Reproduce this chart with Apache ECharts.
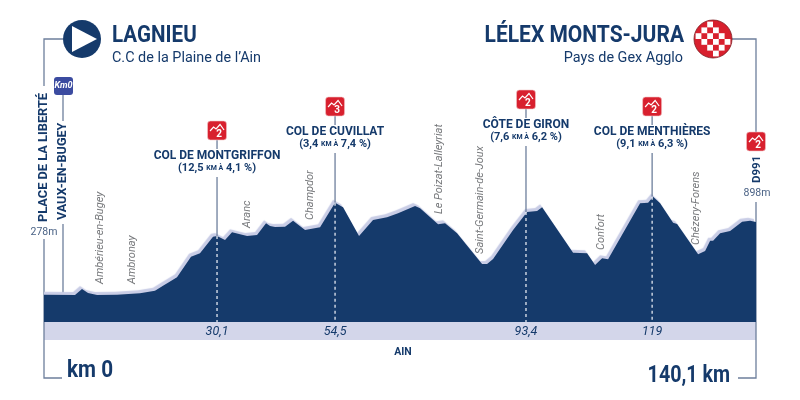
<!DOCTYPE html>
<html lang="fr">
<head>
    <meta charset="UTF-8">
    <title>Profil de l'étape Lagnieu - Lélex Monts-Jura</title>
    <style>html,body{margin:0;background:#fff}</style>
</head>
<body>
<div style="width: 800px;height: 400px;" id="profile"></div>
<script src="https://cdn.jsdelivr.net/npm/echarts@6/dist/echarts.min.js"></script>
<script type="text/javascript">
  // profile: km (start is before km 0) and altitude in m
  const profileKm = [-3.84, 2.43, 3.84, 5.06, 6.88, 10.92, 15.57, 18.6, 20.22, 21.23, 23.05, 25.88, 27.7, 30.33, 31.14, 32.76, 34.17, 37.21, 39.23, 41.05, 41.86, 42.87, 44.89, 46.51, 48.93, 51.97, 55, 56.62, 59.85, 62.68, 65.51, 67.74, 71.18, 72.19, 75.83, 77.24, 79.67, 84.72, 85.73, 86.95, 90.99, 93.82, 95.84, 96.86, 103.12, 105.95, 107.57, 108.99, 110.2, 116.67, 118.29, 119.3, 120.72, 123.34, 124.15, 128.4, 129.81, 130.83, 131.43, 132.85, 134.87, 137.3, 138.91, 140.1];
  const profileAlt = [278, 275, 325, 292, 275, 278, 289, 311, 352, 378, 422, 594, 622, 761, 767, 733, 797, 767, 775, 872, 850, 842, 844, 894, 817, 839, 1044, 1006, 767, 900, 922, 956, 1017, 997, 864, 872, 789, 533, 533, 575, 817, 967, 975, 1006, 628, 622, 525, 581, 572, 1039, 1044, 1094, 1039, 878, 867, 614, 642, 727, 727, 789, 808, 886, 894, 883];

  const climbNames = ['COL DE MONTGRIFFON', 'COL DE CUVILLAT', 'CÔTE DE GIRON', 'COL DE MENTHIÈRES'];
  const climbLength = ['12,5', '3,4', '7,6', '9,1'];
  const climbGrade = ['4,1', '7,4', '6,2', '6,3'];
  const climbCat = ['2', '3', '2', '2'];
  const climbKmLabel = ['30,1', '54,5', '93,4', '119'];
  const climbKm = [31.14, 55, 93.6, 119.1];
  const climbAlt = [767, 1044, 967, 1094];

  const townNames = ['Ambérieu-en-Bugey', 'Ambronay', 'Aranc', 'Champdor', 'Le Poizat-Lalleyriat', 'Saint-Germain-de-Joux', 'Confort', 'Chézery-Forens'];
  const townKm = [7.48, 13.95, 37.2, 49.95, 76.03, 84.3, 108.8, 128];
  const townAlt = [367, 367, 833, 900, 950, 617, 650, 692];

  const NAVY = '#153a6b';
  const LINE = '#6d7f9c';
  const LIGHT = '#d3d6ea';
  const RED = '#d8202e';
  const NARROW = '"Liberation Sans Narrow", Roboto, sans-serif';
  const SANS = 'Roboto, sans-serif';

  // y of the top of each climb badge
  const climbBadgeTop = [121, 97, 90, 97];

  function vLine(x, y1, y2, color, dash) {
    return {
      type: 'line', shape: {x1: x, y1: y1, x2: x, y2: y2},
      style: {stroke: color || LINE, lineWidth: 1.3, lineDash: dash || null},
    };
  }

  function label(x, y, text, font, color, align, rotation, scaleX) {
    return {
      type: 'text', x: x, y: y, rotation: rotation || 0, scaleX: scaleX || 1,
      style: {
        text: text, font: font, fill: color || NAVY,
        align: align || 'center', verticalAlign: 'middle',
      },
    };
  }

  // red climb badge, x is its centre
  function badge(x, top, cat) {
    return {
      type: 'group', x: x - 9.5, y: top,
      children: [
        {type: 'rect', shape: {x: 0, y: 0, width: 19, height: 19, r: 3}, style: {fill: RED, stroke: '#f1c6c8', lineWidth: 0.6}},
        {type: 'polyline', shape: {points: [[2.5, 10], [6, 6], [8.5, 8], [12.5, 3.5], [16.5, 9]]}, style: {fill: 'none', stroke: '#fff', lineWidth: 1.2}},
        label(11.5, 13, cat, 'bold 10px ' + SANS, '#fff'),
      ],
    };
  }

  function renderClimb(params, api) {
    const i = params.dataIndex;
    const peak = api.coord([api.value(0), api.value(1)]);
    const base = api.coord([api.value(0), 50]);
    const x = peak[0];
    const top = climbBadgeTop[i];
    const nameY = top + 35;
    return {
      type: 'group',
      children: [
        vLine(x, top + 19, top + 28),
        vLine(x, nameY + 21, peak[1]),
        vLine(x, peak[1], base[1], '#e3e7f0', [3, 3]),
        badge(x, top, climbCat[i]),
        label(x, nameY, climbNames[i], 'bold 12px ' + SANS),
        {
          type: 'text', x: x, y: nameY + 12,
          style: {
            text: '(' + climbLength[i] + ' {s|KM À} ' + climbGrade[i] + ' %)',
            font: 'bold 11px ' + SANS, fill: NAVY, align: 'center', verticalAlign: 'middle',
            rich: {s: {font: 'bold 7px ' + SANS, fill: NAVY}},
          },
        },
        label(x, base[1] + 10, climbKmLabel[i], 'italic 12.5px ' + SANS),
      ],
    };
  }

  function renderTown(params, api) {
    const p = api.coord([api.value(0), api.value(1)]);
    return label(p[0], p[1], townNames[params.dataIndex], 'italic 11px ' + SANS, '#77797c', 'left', Math.PI / 2);
  }

  // start and finish discs, connector lines, band
  function chrome() {
    const checks = [];
    for (let r = 0; r < 6; r++) {
      for (let c = 0; c < 6; c++) {
        const cx = (c - 2.5) * 5.8;
        const cy = (r - 2.5) * 5.8;
        if ((r + c) % 2 === 0 && Math.hypot(cx, cy) < 15) {
          checks.push({type: 'rect', shape: {x: 713 + cx - 2.9, y: 39 + cy - 2.9, width: 5.8, height: 5.8}, style: {fill: '#fff'}});
        }
      }
    }
    return [
      {type: 'rect', z: -1, shape: {x: 44, y: 322, width: 712, height: 18}, style: {fill: LIGHT}},
      {type: 'polyline', shape: {points: [[63, 39], [44, 39], [44, 86]]}, style: {fill: 'none', stroke: LINE, lineWidth: 1.3}},
      {type: 'polyline', shape: {points: [[44, 239], [44, 378], [62, 378]]}, style: {fill: 'none', stroke: LINE, lineWidth: 1.3}},
      {type: 'polyline', shape: {points: [[732, 39], [756, 39], [756, 132]]}, style: {fill: 'none', stroke: LINE, lineWidth: 1.3}},
      {type: 'polyline', shape: {points: [[756, 202], [756, 378], [738, 378]]}, style: {fill: 'none', stroke: LINE, lineWidth: 1.3}},
      vLine(63, 95, 121), vLine(63, 224, 295),
      {type: 'circle', shape: {cx: 82, cy: 39, r: 19}, style: {fill: NAVY}},
      {type: 'polygon', shape: {points: [[72, 26], [72, 52], [97, 39]]}, style: {fill: '#fff'}},
      {type: 'circle', shape: {cx: 713, cy: 39, r: 19}, style: {fill: RED, stroke: '#7a1a20', lineWidth: 0.8}},
      ...checks,
      {type: 'rect', shape: {x: 54, y: 77, width: 19, height: 18, r: 3}, style: {fill: '#3b4ba0'}},
      label(63.5, 86, 'Km0', 'italic bold 9px ' + SANS, '#fff'),
      badge(756, 132, '2'),
      label(112, 36, 'LAGNIEU', 'bold 23px ' + NARROW, NAVY, 'left', 0, 0.895),
      label(112, 58, 'C.C de la Plaine de l’Ain', '14.4px ' + NARROW, NAVY, 'left'),
      label(684, 36, 'LÉLEX MONTS-JURA', 'bold 23px ' + NARROW, NAVY, 'right', 0, 0.913),
      label(683, 58, 'Pays de Gex Agglo', '14.4px ' + NARROW, NAVY, 'right'),
      label(44, 222, 'PLACE DE LA LIBERTÉ', 'bold 12.8px ' + SANS, NAVY, 'left', Math.PI / 2),
      label(63, 220, 'VAUX-EN-BUGEY', 'bold 12.6px ' + SANS, NAVY, 'left', Math.PI / 2),
      label(757, 183, 'D991', 'bold 11.5px ' + SANS, NAVY, 'left', Math.PI / 2),
      label(44, 232, '278m', '10.5px ' + SANS, '#4a6285'),
      label(757, 193, '898m', '10.5px ' + SANS, '#4a6285'),
      label(403, 352, 'AIN', 'bold 10.5px ' + SANS),
      label(67, 371, 'km 0', 'bold 23px ' + NARROW, NAVY, 'left', 0, 0.9),
      label(730, 376, '140,1 km', 'bold 23px ' + NARROW, NAVY, 'right', 0, 0.855),
    ];
  }

  const option = {
    animation: false,
    // bottom of the grid is the top of the light band
    grid: {left: 44, right: 44, top: 22, bottom: 78},
    xAxis: {type: 'value', min: -3.84, max: 140.1, show: false},
    yAxis: {type: 'value', min: 50, max: 2550, show: false},
    graphic: chrome(),
    series: [
      {
        name: 'profil', type: 'line', symbol: 'none', z: 2,
        data: profileKm.map((km, i) => [km, profileAlt[i]]),
        lineStyle: {width: 0},
        areaStyle: {
          color: NAVY, opacity: 1,
          shadowColor: '#c9cde6', shadowOffsetX: -2, shadowOffsetY: -3, shadowBlur: 1,
        },
      },
      {
        name: 'villes', type: 'custom', z: 3,
        renderItem: renderTown,
        data: townKm.map((km, i) => [km, townAlt[i]]),
      },
      {
        name: 'cols', type: 'custom', z: 4,
        renderItem: renderClimb,
        data: climbKm.map((km, i) => [km, climbAlt[i]]),
      },
    ],
  };

  echarts.init(document.getElementById('profile'), null, {renderer: 'canvas'}).setOption(option);
</script>
</body>
</html>
